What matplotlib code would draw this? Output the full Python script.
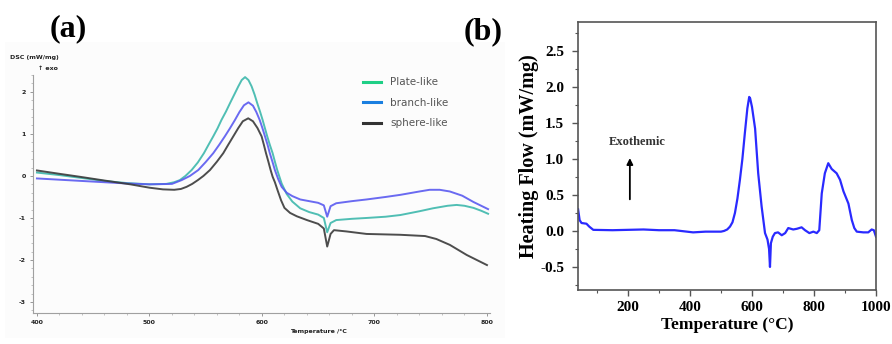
import numpy as np
import matplotlib
matplotlib.use('Agg')
import matplotlib.pyplot as plt
from matplotlib.lines import Line2D
from matplotlib.ticker import MultipleLocator

plt.rcParams['axes.unicode_minus'] = False

# ---- panel (a): DSC curves of the three morphologies ----
plate_T = [400, 420, 440, 460, 480, 500, 515, 522, 527, 532, 537.5, 543, 548.4, 552.5,
           556.7, 560.5, 564, 568, 571.6, 575.5, 579, 582, 585, 588, 590.8, 593.5, 595.8,
           598.3, 600.6, 602.7, 604.7, 607, 609.5, 611.5, 613.6, 617.5, 622, 627, 634, 642,
           650, 655, 658, 661, 666, 680, 693, 710, 723, 740, 752, 765, 773, 780, 788, 795,
           801]
plate_dsc = [0.08, 0.02, -0.05, -0.12, -0.17, -0.2, -0.19, -0.15, -0.1, 0.0, 0.14, 0.32,
             0.54, 0.74, 0.94, 1.13, 1.33, 1.53, 1.73, 1.94, 2.13, 2.28, 2.35, 2.28, 2.13,
             1.93, 1.73, 1.53, 1.33, 1.13, 0.94, 0.74, 0.54, 0.34, 0.14, -0.18, -0.43,
             -0.61, -0.77, -0.86, -0.92, -1.0, -1.34, -1.12, -1.05, -1.02, -1.0, -0.97,
             -0.93, -0.84, -0.77, -0.71, -0.69, -0.71, -0.76, -0.83, -0.9]

branch_T = [400, 420, 440, 460, 480, 500, 520, 528.6, 536, 543.4, 550, 556.7, 562, 567,
            571.5, 576, 580, 584, 588, 592, 595, 598, 600.5, 602.7, 605, 607, 609.3, 611.5,
            614.5, 617.5, 622, 627, 634, 642, 650, 655, 658, 661, 666, 680, 693, 710, 723,
            740, 749, 758, 767, 778, 788, 801]
branch_dsc = [-0.06, -0.09, -0.12, -0.15, -0.18, -0.2, -0.19, -0.1, 0.0, 0.14, 0.33, 0.54,
              0.74, 0.94, 1.13, 1.33, 1.52, 1.68, 1.75, 1.67, 1.52, 1.33, 1.13, 0.94, 0.74,
              0.54, 0.34, 0.14, -0.08, -0.26, -0.4, -0.48, -0.56, -0.6, -0.64, -0.7, -0.97,
              -0.72, -0.65, -0.6, -0.56, -0.5, -0.45, -0.37, -0.33, -0.33, -0.37, -0.47,
              -0.62, -0.79]

sphere_T = [400, 420, 438, 460, 483, 500, 512, 522, 528, 533, 538, 543, 548, 553.8, 560,
            565.6, 570, 574.5, 579, 583, 587.8, 592, 596, 599.7, 601.7, 603.6, 605.7,
            607.7, 609.5, 611.5, 614, 617, 620, 625, 631, 640, 650, 655, 658, 661, 664,
            675, 693, 723, 745, 755, 767, 782, 800]
sphere_dsc = [0.13, 0.05, -0.02, -0.11, -0.2, -0.28, -0.32, -0.33, -0.31, -0.26, -0.19,
              -0.1, 0.0, 0.14, 0.34, 0.54, 0.74, 0.94, 1.14, 1.3, 1.37, 1.3, 1.14, 0.94,
              0.74, 0.54, 0.34, 0.14, -0.02, -0.15, -0.35, -0.58, -0.76, -0.88, -0.96,
              -1.05, -1.14, -1.25, -1.68, -1.38, -1.29, -1.32, -1.38, -1.4, -1.43, -1.5,
              -1.64, -1.88, -2.12]

labels_a = ['Plate-like', 'branch-like', 'sphere-like']
curve_colors = ['#3db8ac', '#5a5af0', '#3a3a3a']
legend_colors = ['#1fcf86', '#1a7fe0', '#333333']

# ---- panel (b): heating flow ----
temp_b = [39, 44, 50, 66, 75, 88, 150, 250, 300, 350, 410, 450, 500, 510, 520, 529, 537,
          545, 553, 561, 569, 577, 585, 591, 594, 600, 610, 620, 631, 642, 650, 655, 658,
          661, 667, 674, 684, 696, 707, 717, 733, 745, 760, 771, 785, 798, 809, 817, 825,
          835, 846, 857, 873, 884, 895, 911, 922, 930, 938, 959, 975, 986, 993, 1000]
flow_b = [0.30, 0.15, 0.11, 0.10, 0.06, 0.015, 0.01, 0.02, 0.01, 0.01, -0.02, -0.01,
          -0.01, 0.0, 0.02, 0.06, 0.12, 0.25, 0.45, 0.71, 1.0, 1.36, 1.7, 1.86, 1.84, 1.72,
          1.42, 0.8, 0.34, -0.03, -0.12, -0.25, -0.5, -0.17, -0.08, -0.03, -0.02, -0.06,
          -0.03, 0.04, 0.02, 0.03, 0.05, 0.01, -0.03, -0.01, -0.03, 0.01, 0.52, 0.80, 0.94,
          0.86, 0.8, 0.71, 0.55, 0.38, 0.15, 0.04, -0.01, -0.02, -0.02, 0.02, 0.01, -0.08]

W, H = 892, 344
fig = plt.figure(figsize=(W / 100, H / 100), dpi=100)

# faint background of the left picture
fig.patches.append(plt.Rectangle((5 / W, 1 - 338 / H), 500 / W, 296 / H,
                                 transform=fig.transFigure, facecolor='#fcfcfc',
                                 edgecolor='none', zorder=-5))

# ============================================================
# (a)
# ============================================================
axa = fig.add_axes([33 / W, 1 - 313 / H, (490 - 33) / W, (313 - 75) / H])
axa.patch.set_alpha(0)
for T, v, c in zip([plate_T, branch_T, sphere_T], [plate_dsc, branch_dsc, sphere_dsc],
                   curve_colors):
    axa.plot(T, v, color=c, lw=1.4, alpha=0.9, solid_joinstyle='round')
axa.set_xlim(396.5, 802.7)
axa.set_ylim(-3.26, 2.40)
for s in ['top', 'right']:
    axa.spines[s].set_visible(False)
for s in ['left', 'bottom']:
    axa.spines[s].set_color('#a0a0a0')
    axa.spines[s].set_linewidth(0.8)
axa.xaxis.set_major_locator(MultipleLocator(100))
axa.xaxis.set_minor_locator(MultipleLocator(20))
axa.yaxis.set_major_locator(MultipleLocator(1))
axa.yaxis.set_minor_locator(MultipleLocator(0.2))
axa.tick_params(which='major', direction='out', length=2.5, width=0.6, color='#888888',
                labelsize=4.5, pad=2.5, labelcolor='#222222')
axa.tick_params(which='minor', direction='out', length=1.2, width=0.5, color='#aaaaaa')
for lab in axa.get_xticklabels() + axa.get_yticklabels():
    lab.set_fontweight('bold')

handles = [Line2D([], [], color=c, lw=2.2) for c in legend_colors]
leg = axa.legend(handles, labels_a, loc='upper left', bbox_to_anchor=(0.722, 0.99),
                 frameon=False, fontsize=7.5, handlelength=1.7, handletextpad=0.9,
                 labelspacing=1.0, borderpad=0, borderaxespad=0)
for t in leg.get_texts():
    t.set_color('#555555')

fig.text(10 / W, 1 - 58 / H, 'DSC (mW/mg)', fontsize=4.5, fontweight='bold',
         va='center', ha='left', color='#222222')
fig.text(38 / W, 1 - 68 / H, '\u2191 exo', fontsize=4.5, fontweight='bold',
         va='center', ha='left', color='#222222')
fig.text(318 / W, 1 - 331 / H, 'Temperature /\u00b0C', fontsize=4.5, fontweight='bold',
         va='center', ha='center', color='#222222')
fig.text(68 / W, 1 - 29 / H, '(a)', fontsize=23, fontweight='bold',
         family='Liberation Serif', ha='center', va='center')

# ============================================================
# (b)
# ============================================================
axb = fig.add_axes([578 / W, 1 - 290 / H, (876 - 578) / W, (290 - 22) / H])
axb.plot(temp_b, flow_b, color='#2a2aff', lw=1.6, solid_joinstyle='round')
axb.set_xlim(38.7, 1000)
axb.set_ylim(-0.82, 2.90)
axb.xaxis.set_major_locator(MultipleLocator(200))
axb.xaxis.set_minor_locator(MultipleLocator(100))
axb.yaxis.set_major_locator(MultipleLocator(0.5))
axb.yaxis.set_minor_locator(MultipleLocator(0.25))
axb.yaxis.set_major_formatter(plt.FormatStrFormatter('%.1f'))
for s in axb.spines.values():
    s.set_color('#555555')
    s.set_linewidth(1.2)
axb.tick_params(which='major', direction='out', length=4, width=1, color='#555555',
                labelsize=11, pad=4)
axb.tick_params(which='minor', direction='out', length=2, width=0.8, color='#555555')
axb.tick_params(axis='y', which='major', pad=6)
for lab in axb.get_xticklabels() + axb.get_yticklabels():
    lab.set_fontweight('bold')
    lab.set_family('Liberation Serif')
axb.set_xlabel('Temperature (\u00b0C)', fontsize=12.5, fontweight='bold',
               family='Liberation Serif', labelpad=2)
axb.set_ylabel('Heating Flow (mW/mg)', fontsize=14.5, fontweight='bold',
               family='Liberation Serif', labelpad=1)

axb.annotate('', xy=(206, 1.05), xytext=(206, 0.40),
             arrowprops=dict(arrowstyle='-|>', color='black', lw=1.3, mutation_scale=9))
axb.text(231, 1.24, 'Exothemic', fontsize=9, fontweight='bold', family='Liberation Serif',
         ha='center', va='center', color='#333333')
fig.text(483 / W, 1 - 32 / H, '(b)', fontsize=23, fontweight='bold',
         family='Liberation Serif', ha='center', va='center')

fig.savefig('out.png', dpi=100)
